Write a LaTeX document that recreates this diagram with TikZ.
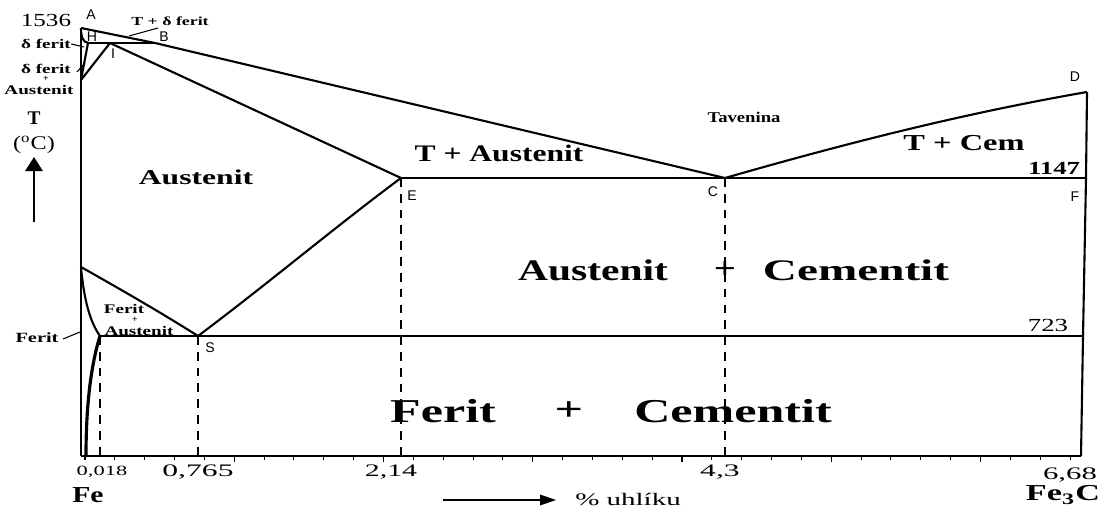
\documentclass[tikz,border=0pt]{standalone}
\usepackage{fontspec}
\setmainfont{Liberation Serif}
\newfontfamily\lsans{Liberation Sans}
\usetikzlibrary{arrows.meta}
\newcommand\W[2][1.45]{\scalebox{#1}[1]{#2}}
\begin{document}
\begin{tikzpicture}[x=0.02cm,y=-0.02cm,
  phase/.style={line width=1.2pt, line join=round},
  thin/.style={line width=0.6pt},
  dline/.style={line width=0.7pt, dash pattern=on 5pt off 4pt},
  lbl/.style={inner sep=0pt, font=\lsans\fontsize{8}{9}\selectfont},
  txt/.style={inner sep=0pt}]
\useasboundingbox (0,0) rectangle (1108,510);
% key points
\coordinate (A) at (81,28);
\coordinate (H) at (88,43);
\coordinate (I) at (110,43);
\coordinate (B) at (155,43);
\coordinate (N) at (81,80);
\coordinate (E) at (401,178);
\coordinate (C) at (725,178);
\coordinate (D) at (1087,92);
\coordinate (F) at (1086,178);
\coordinate (G) at (81,267);
\coordinate (P) at (100,336);
\coordinate (S) at (198,336);
\coordinate (Q) at (1083,336);
\coordinate (O) at (81,456);
\coordinate (R) at (1081,456);
\coordinate (Fb) at (86,456);
% axes
\draw[phase] (A) -- (O);
\draw[line width=0.8pt] (O) -- (R);
\draw[phase] (D) -- (F) -- (Q) -- (R);
\foreach \k in {0,...,33}{
  \pgfmathsetmacro\xx{85+29.85*\k}
  \draw[thin] (\xx,456) -- (\xx,460);
}
\foreach \k in {1,...,6}{
  \pgfmathsetmacro\xx{85+149.25*\k}
  \draw[thin] (\xx,456) -- (\xx,462);
}
% phase lines
\draw[phase] (A) -- (B) -- (C);
\draw[phase] (C) .. controls (840,145) and (960,114) .. (D);
\draw[phase] (A) .. controls (81,37) and (83,42) .. (H);
\draw[phase] (H) -- (B);
\draw[phase] (H) -- (N);
\draw[phase] (I) -- (N);
\draw[phase] (I) -- (E);
\draw[phase] (E) -- (F);
\draw[phase] (G) .. controls (120,289) and (160,312) .. (S);
\draw[phase] (S) .. controls (270,282) and (335,227) .. (E);
\draw[phase] (G) .. controls (84,300) and (90,322) .. (P);
\draw[phase] (P) -- (Q);
\draw[line width=1.8pt] (P) .. controls (91,365) and (86,405) .. (Fb);
% dashed verticals
\draw[dline] (P) -- (P |- O);
\draw[dline] (S) -- (S |- O);
\draw[dline] (E) -- (E |- O);
\draw[dline] (C) -- (C |- O);
% point labels
\node[lbl] (lA) at (91,15) {A};
\node[lbl] (lH) at (92,37) {H};
\node[lbl] (lB) at (164,37) {B};
\node[lbl] (lI) at (113,54) {I};
\node[lbl] (lE) at (412,196) {E};
\node[lbl] (lC) at (713,192) {C};
\node[lbl] (lD) at (1075,77) {D};
\node[lbl] (lF) at (1075,197) {F};
\node[lbl] (lS) at (210,348) {S};
% region texts
\node[txt] (t1536) at (46,20) {\fontsize{10.5}{12}\selectfont\W[1.36]{1536}};
\node[txt] (tTd) at (170,21) {\fontsize{7}{8}\selectfont\bfseries\W{T + δ ferit}};
\coordinate (tTdl) at (158,28);
\coordinate (tTde) at (129,36);
\draw[thin] (tTdl) -- (tTde);
\node[txt] (td1) at (46,44) {\fontsize{7.5}{8}\selectfont\bfseries\W{δ ferit}};
\coordinate (td1e) at (84,47);
\draw[thin] (td1.east) -- (td1e);
\node[txt] (td2) at (46,68.5) {\fontsize{7.5}{8}\selectfont\bfseries\W{δ ferit}};
\node[txt] (td2p) at (46,79) {\fontsize{5.5}{6}\selectfont\bfseries +};
\node[txt] (td2a) at (39,90.5) {\fontsize{7.5}{8}\selectfont\bfseries\W{Austenit}};
\coordinate (td2s) at (77,72);
\coordinate (td2e) at (85,63);
\draw[thin] (td2s) -- (td2e);
\node[txt] (tT) at (34,118) {\fontsize{11}{12}\selectfont\bfseries T};
\node[txt] (tC) at (34,145) {\fontsize{11}{12}\selectfont\W[1.25]{(\textsuperscript{o}C)}};
\coordinate (ab) at (34,222);
\coordinate (at) at (34,157);
\draw[line width=0.7pt,-{Triangle[length=8pt,width=10pt]}] (ab) -- (at);
\node[txt] (tAus) at (196,177) {\fontsize{12}{14}\selectfont\bfseries\W[1.5]{Austenit}};
\node[txt] (tTA) at (499,153) {\fontsize{13.5}{15}\selectfont\bfseries\W[1.33]{T + Austenit}};
\node[txt] (tTav) at (744,117) {\fontsize{8.5}{9}\selectfont\bfseries\W[1.25]{Tavenina}};
\node[txt] (tTC) at (964,143) {\fontsize{13}{15}\selectfont\bfseries\W[1.42]{T + Cem}};
\node[txt] (t1147) at (1054,168) {\fontsize{10.5}{12}\selectfont\bfseries\W[1.45]{1147}};
\node[txt] (tA1) at (593,270) {\fontsize{17}{19}\selectfont\bfseries\W[1.39]{Austenit}};
\node[txt] (tA2) at (725,270) {\fontsize{17}{19}\selectfont\bfseries\W[1.3]{+}};
\node[txt] (tA3) at (856,270) {\fontsize{17}{19}\selectfont\bfseries\W[1.58]{Cementit}};
\node[txt] (t723) at (1048,325) {\fontsize{10.5}{12}\selectfont\W[1.45]{723}};
\node[txt] (tFA1) at (124,309) {\fontsize{7.5}{8}\selectfont\bfseries\W{Ferit}};
\node[txt] (tFA2) at (135,319.5) {\fontsize{5.5}{6}\selectfont\bfseries +};
\node[txt] (tFA3) at (139,331) {\fontsize{7.5}{8}\selectfont\bfseries\W{Austenit}};
\node[txt] (tFer) at (37,338) {\fontsize{8}{9}\selectfont\bfseries\W{Ferit}};
\coordinate (tFerS) at (63,339);
\coordinate (tFerE) at (80,332);
\draw[thin] (tFerS) -- (tFerE);
\node[txt] (tF1) at (443,411) {\fontsize{19}{21}\selectfont\bfseries\W[1.5]{Ferit}};
\node[txt] (tF2) at (569,411) {\fontsize{19}{21}\selectfont\bfseries\W[1.5]{+}};
\node[txt] (tF3) at (733,411) {\fontsize{19}{21}\selectfont\bfseries\W[1.5]{Cementit}};
% axis texts
\node[txt] (x1) at (102,472) {\fontsize{8}{9}\selectfont\W[1.6]{0,018}};
\node[txt] (x2) at (198,472) {\fontsize{10}{12}\selectfont\W[1.8]{0,765}};
\node[txt] (x3) at (391,472) {\fontsize{10}{12}\selectfont\W[1.7]{2,14}};
\node[txt] (x4) at (720,472) {\fontsize{10}{12}\selectfont\W[1.8]{4,3}};
\node[txt] (x5) at (1070,475) {\fontsize{10}{12}\selectfont\W[1.75]{6,68}};
\node[txt] (xFe) at (88,495) {\fontsize{13}{15}\selectfont\bfseries\W[1.3]{Fe}};
\node[txt] (xFe3C) at (1063,495) {\fontsize{13}{15}\selectfont\bfseries\W[1.5]{Fe\textsubscript{3}C}};
\coordinate (uh1) at (443,500);
\coordinate (uh2) at (556,500);
\draw[line width=0.7pt,-{Triangle[length=9pt,width=6pt]}] (uh1) -- (uh2);
\node[txt] (xuh) at (628,500) {\fontsize{10}{12}\selectfont\W[1.65]{\% uhlíku}};
\end{tikzpicture}
\end{document}
